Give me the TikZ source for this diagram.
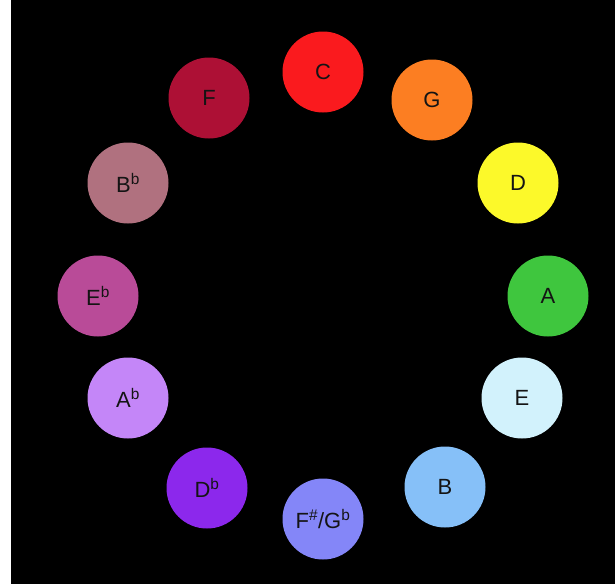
\documentclass[tikz,border=0pt]{standalone}
\usepackage{fontspec}
\setmainfont{Liberation Sans}
\definecolor{cC}{HTML}{FA1A1E}
\definecolor{cG}{HTML}{FC7E22}
\definecolor{cD}{HTML}{FCF92A}
\definecolor{cA}{HTML}{3FC63E}
\definecolor{cE}{HTML}{D2F2FC}
\definecolor{cB}{HTML}{86C0F8}
\definecolor{cFs}{HTML}{8486F8}
\definecolor{cDb}{HTML}{8C28EC}
\definecolor{cAb}{HTML}{C486F8}
\definecolor{cEb}{HTML}{B94B98}
\definecolor{cBb}{HTML}{B0717F}
\definecolor{cF}{HTML}{AD1035}
\definecolor{txt}{HTML}{141414}
\tikzset{
  key/.style={circle, draw=none, minimum size=81pt, inner sep=0pt, text=txt, font=\fontsize{22}{22}\selectfont},
}
\newcommand{\fl}{\textsuperscript{b}}
\newcommand{\shp}{\textsuperscript{\#}}
\begin{document}
\begin{tikzpicture}[x=1pt,y=1pt]
\useasboundingbox (0,0) rectangle (615,-584);
\fill[white] (0,0) rectangle (11,-584);
\fill[black] (11,0) rectangle (615,-584);
\node[key, fill=cC] (C) at (323,-72) {C};
\node[key, fill=cG] (G) at (432,-100) {G};
\node[key, fill=cD] (D) at (518,-183) {D};
\node[key, fill=cA] (A) at (548,-296) {A};
\node[key, fill=cE] (E) at (522,-398) {E};
\node[key, fill=cB] (B) at (445,-487) {B};
\node[key, fill=cFs] (Fs) at (323,-519) {F\shp/G\fl};
\node[key, fill=cDb] (Db) at (207,-488) {D\fl};
\node[key, fill=cAb] (Ab) at (128,-398) {A\fl};
\node[key, fill=cEb] (Eb) at (98,-296) {E\fl};
\node[key, fill=cBb] (Bb) at (128,-183) {B\fl};
\node[key, fill=cF] (F) at (209,-98) {F};
\end{tikzpicture}
\end{document}
